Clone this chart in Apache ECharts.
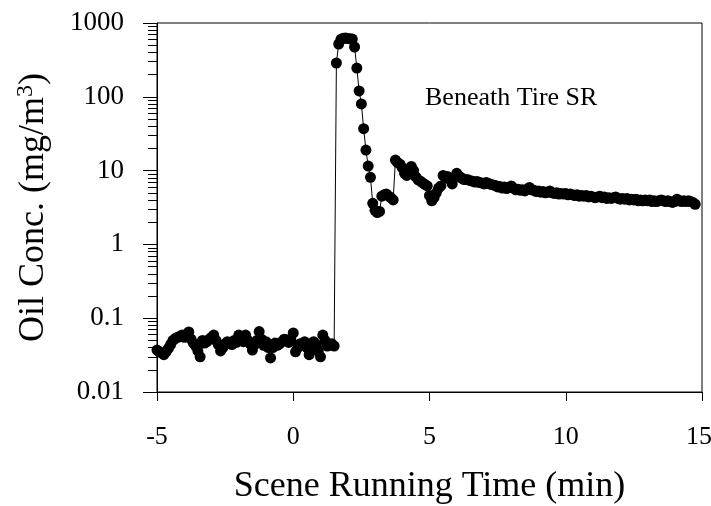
<!DOCTYPE html>
<html>
<head>
<meta charset="utf-8">
<script src="https://cdn.jsdelivr.net/npm/echarts@6/dist/echarts.min.js"></script>
<style>
html,body{margin:0;padding:0;background:#fff;}
#chart{width:711px;height:506px;}
</style>
</head>
<body>
<div id="chart"></div>
<script>
// Sampling: one reading every 5 s starting at -5 min
var startTime = -5;
var stepMin = 5 / 60;

// Before the scene starts (baseline)
var baselineConc = [
  0.037,0.035,0.034,0.032,0.035,0.039,0.044,0.050,0.053,0.055,
  0.056,0.059,0.055,0.060,0.065,0.052,0.046,0.042,0.036,0.030,
  0.050,0.046,0.048,0.052,0.055,0.059,0.050,0.044,0.036,0.040,
  0.045,0.048,0.046,0.044,0.050,0.047,0.059,0.052,0.048,0.059,
  0.050,0.045,0.037,0.044,0.050,0.066,0.052,0.043,0.048,0.040,
  0.029,0.040,0.046,0.043,0.045,0.048,0.052,0.051,0.047,0.050,
  0.063,0.035,0.040,0.045,0.044,0.048,0.040,0.032,0.042,0.048,
  0.044,0.036,0.030,0.059,0.050,0.042,0.043,0.045,0.042
];
// Peak and fall-off
var peakConc = [
  287,519,600,620,625,615,610,605,473,245,
  120,80,37,19,11.5,8.1,3.6,2.9,2.7,2.8,
  4.5,4.7,4.8,4.5,4.3,4.0
];
// Secondary rise and slow decay
var decayConc = [
  13.9,12.8,12.2,11.0,9.2,8.6,9.5,11.4,10.0,8.2,
  7.5,7.2,6.8,6.5,6.2,4.6,3.9,4.3,5.0,5.8,
  6.2,8.6,8.0,8.3,7.6,6.6,8.0,9.2,8.4,8.0,
  7.6,7.6,7.5,7.3,7.2,7.0,7.1,6.9,6.8,6.6,
  6.9,6.7,6.5,6.4,6.3,6.0,6.1,5.8,6.0,5.7,
  5.9,6.2,5.8,5.5,5.6,5.4,5.5,5.3,5.6,5.9,
  5.5,5.4,5.2,5.3,5.1,5.2,5.0,5.1,5.3,5.0,
  4.9,5.0,4.8,4.9,4.8,4.9,4.7,4.8,4.7,4.6,
  4.7,4.5,4.6,4.5,4.6,4.4,4.5,4.4,4.3,4.4,
  4.5,4.3,4.4,4.2,4.3,4.2,4.3,4.4,4.2,4.1,
  4.2,4.1,4.2,4.0,4.1,4.0,4.1,3.9,4.0,3.9,
  4.0,3.9,4.0,3.8,3.9,3.8,3.9,4.0,3.9,3.8,
  3.9,3.8,3.7,3.8,4.1,3.9,3.8,3.9,3.8,3.9,
  3.8,3.7,3.5
];

var xTicks = [-5, 0, 5, 10, 15];
var yTicks = [0.01, 0.1, 1, 10, 100, 1000];
var annotation = 'Beneath Tire SR';

var conc = baselineConc.concat(peakConc, decayConc);
var data = conc.map(function (v, i) {
  return [startTime + i * stepMin, v];
});

var serif = '"Liberation Serif","DejaVu Serif",serif';
var xMax = xTicks[xTicks.length - 1];
var chart = echarts.init(document.getElementById('chart'));
chart.setOption({
  animation: false,
  backgroundColor: '#fff',
  grid: {
    left: 157, right: 9, top: 23, bottom: 114,
    outerBoundsMode: 'none',
    containLabel: false,
    show: true, borderColor: '#000', borderWidth: 1
  },
  xAxis: {
    type: 'value',
    min: xTicks[0], max: xMax, interval: 5,
    axisLine: { show: true, onZero: false, lineStyle: { color: '#000', width: 1 } },
    axisTick: { show: true, inside: false, length: 9, lineStyle: { color: '#000' } },
    splitLine: { show: false },
    axisLabel: {
      color: '#000', fontFamily: serif, fontSize: 26, margin: 32,
      formatter: function (v) { return v === xMax ? '{e|' + v + '}' : String(v); },
      rich: { e: { fontFamily: serif, fontSize: 26, color: '#000', padding: [0, 6, 0, 0] } }
    },
    name: 'Scene Running Time (min)',
    nameLocation: 'middle',
    nameGap: 77,
    nameTextStyle: { color: '#000', fontFamily: serif, fontSize: 36 }
  },
  yAxis: {
    type: 'log',
    logBase: 10,
    min: yTicks[0], max: yTicks[yTicks.length - 1],
    axisLine: { show: true, onZero: false, lineStyle: { color: '#000', width: 1 } },
    axisTick: { show: true, inside: false, length: 14, lineStyle: { color: '#000' } },
    minorTick: { show: true, splitNumber: 9, length: 9, lineStyle: { color: '#000' } },
    splitLine: { show: false },
    minorSplitLine: { show: false },
    axisLabel: {
      color: '#000', fontFamily: serif, fontSize: 27, margin: 33,
      formatter: function (v) { return String(v); }
    },
    name: 'Oil Conc. (mg/m{sup|3})',
    nameLocation: 'middle',
    nameGap: 103,
    nameRotate: 90,
    nameTextStyle: {
      color: '#000', fontFamily: serif, fontSize: 36,
      rich: {
        sup: { fontFamily: serif, fontSize: 24, verticalAlign: 'top', padding: [0, 0, 16, 0], color: '#000' }
      }
    }
  },
  graphic: [{
    type: 'text',
    left: 425, top: 85,
    style: { text: annotation, fill: '#000', font: '26px ' + serif }
  }],
  series: [{
    type: 'line',
    data: data,
    showAllSymbol: true,
    symbol: 'circle',
    symbolSize: 11,
    itemStyle: { color: '#000' },
    lineStyle: { color: '#000', width: 1 },
    clip: false
  }]
});
</script>
</body>
</html>
